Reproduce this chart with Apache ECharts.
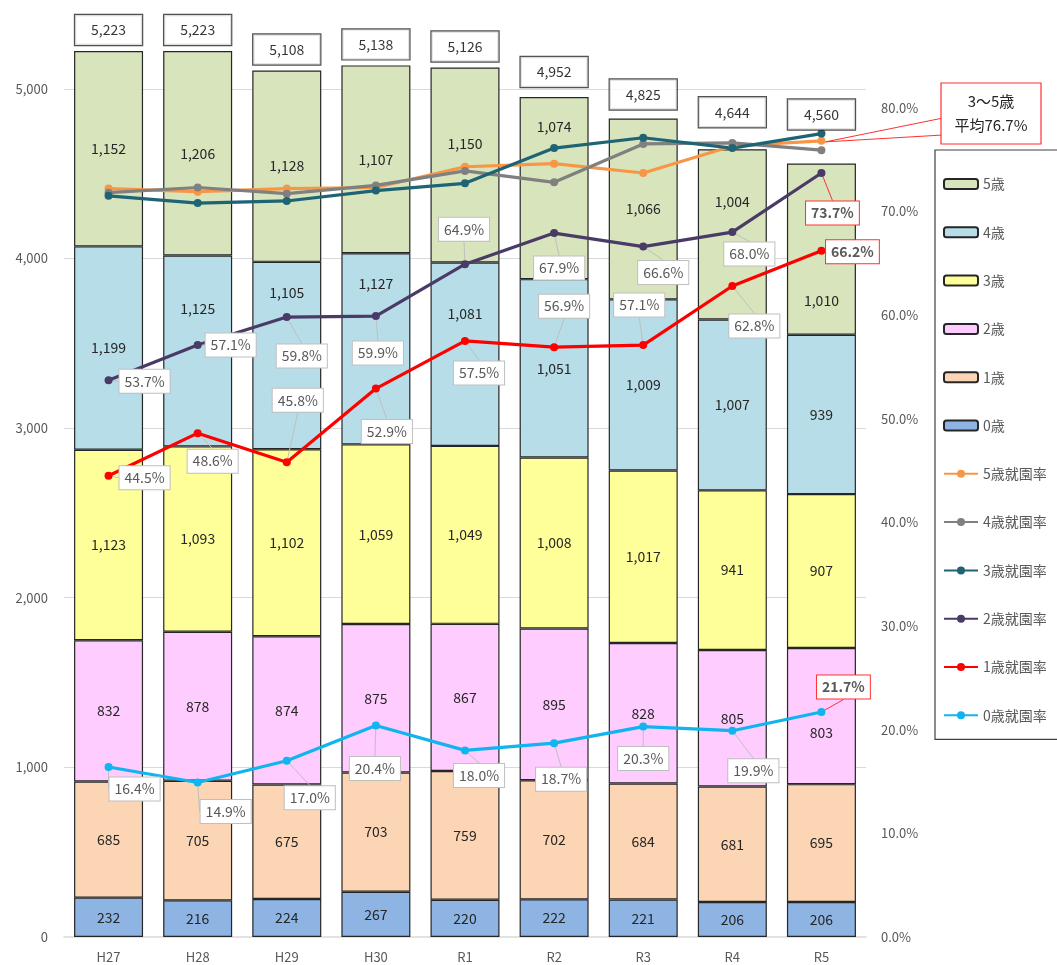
<!DOCTYPE html>
<html><head><meta charset="utf-8">
<script src="https://cdn.jsdelivr.net/npm/echarts@6/dist/echarts.min.js"></script>
<style>html,body{margin:0;padding:0;background:#fff}#c{width:1057px;height:965px}</style>
</head><body><div id="c"></div>
<script>
// ---- data ----
const categories = ['H27','H28','H29','H30','R1','R2','R3','R4','R5'];
const age0 = [232,216,224,267,220,222,221,206,206];
const age1 = [685,705,675,703,759,702,684,681,695];
const age2 = [832,878,874,875,867,895,828,805,803];
const age3 = [1123,1093,1102,1059,1049,1008,1017,941,907];
const age4 = [1199,1125,1105,1127,1081,1051,1009,1007,939];
const age5 = [1152,1206,1128,1107,1150,1074,1066,1004,1010];
const totals = [5223,5223,5108,5138,5126,4952,4825,4644,4560];
const rate5 = [72.2,71.9,72.2,72.3,74.3,74.6,73.7,76.3,76.8];
const rate4 = [71.8,72.3,71.7,72.5,73.9,72.8,76.5,76.6,75.9];
const rate3 = [71.5,70.8,71.0,72.0,72.7,76.1,77.1,76.1,77.5];
const rate2 = [53.7,57.1,59.8,59.9,64.9,67.9,66.6,68.0,73.7];
const rate1 = [44.5,48.6,45.8,52.9,57.5,56.9,57.1,62.8,66.2];
const rate0 = [16.4,14.9,17.0,20.4,18.0,18.7,20.3,19.9,21.7];
const avgText = '3〜5歳\n平均76.7%';
const avgValue = 76.7;

// ---- label placement (style only) ----
const off5 = [0,0,0,0,-21,-61,0,-33,52];
const off4 = [0,-42,-63,-65,-41,0,0,0,0];
const off2 = [0,0,0,0,0,0,0,0,17];
const totalGap = [5,5,5,5,5,9,8,21,33];
const lblOff = {
  r0: [[26,22],[28,29],[23,37],[-1,43],[14,25],[7,36],[0,32],[21,40],[22,-25]],
  r1: [[36,2],[15,28],[11,-62],[11,43],[14,32],[10,-41],[-4,-40],[22,40],[31,1]],
  r2: [[36,1],[33,0],[15,39],[2,37],[-1,-35],[5,35],[20,26],[17,22],[11,40]]
};

const FONT = '"Noto Sans CJK JP", "Noto Sans", sans-serif';
const fmt = v => Number(v).toLocaleString('en-US');

function barSeries(name, arr, color, offs) {
  return {
    name, type: 'bar', stack: 'a', barWidth: 69, yAxisIndex: 0,
    itemStyle: { color, borderColor: '#262626', borderWidth: 1.2 },
    label: { show: true, position: 'inside', color: '#262626', fontSize: 14, fontFamily: FONT,
      formatter: p => fmt(p.value) },
    data: arr.map((v, i) => (offs && offs[i]) ? { value: v, label: { offset: [0, offs[i]] } } : v),
    z: 2
  };
}

function lineSeries(name, arr, color, offKey) {
  const s = {
    name, type: 'line', yAxisIndex: 1, data: arr.slice(),
    symbol: 'circle', symbolSize: 8, showAllSymbol: true,
    lineStyle: { color, width: 3.2 }, itemStyle: { color },
    z: 5, emphasis: { disabled: true }
  };
  if (offKey) {
    const offs = lblOff[offKey];
    const last = arr.length - 1;
    s.data = arr.map((v, i) => i === last ? {
      value: v,
      label: { borderColor: '#ff3030', fontWeight: 'bold' },
      labelLine: { lineStyle: { color: '#ff3030' } }
    } : v);
    s.label = {
      show: true, position: 'inside', formatter: p => Number(p.value).toFixed(1) + '%',
      color: '#595959', fontSize: 14, fontFamily: FONT, backgroundColor: '#fff',
      borderColor: '#bfbfbf', borderWidth: 1, padding: [5, 5, 4, 5]
    };
    s.labelLine = { show: true, lineStyle: { color: '#bfbfbf', width: 1 } };
    s.labelLayout = p => ({ dx: offs[p.dataIndex][0], dy: offs[p.dataIndex][1] });
  }
  return s;
}

const series = [
  barSeries('0歳', age0, '#8DB4E2'),
  barSeries('1歳', age1, '#FCD5B4'),
  barSeries('2歳', age2, '#FFCCFF', off2),
  barSeries('3歳', age3, '#FFFF99'),
  barSeries('4歳', age4, '#B7DEE8', off4),
  barSeries('5歳', age5, '#D8E4BC', off5),
  {
    name: 'total', type: 'scatter', yAxisIndex: 0, symbol: 'rect', symbolSize: 2, silent: true,
    itemStyle: { color: 'rgba(0,0,0,0)' }, z: 6,
    data: totals.map((v, i) => ({ value: v, label: { distance: totalGap[i] } })),
    label: { show: true, position: 'top', formatter: p => fmt(p.value), color: '#000',
      fontSize: 14, fontFamily: FONT, backgroundColor: '#fff', borderColor: '#262626',
      borderWidth: 1.2, width: 67, align: 'center', lineHeight: 16, padding: [7, 0, 7, 0] }
  },
  lineSeries('5歳就園率', rate5, '#F79646'),
  lineSeries('4歳就園率', rate4, '#808080'),
  lineSeries('3歳就園率', rate3, '#1F6475'),
  lineSeries('2歳就園率', rate2, '#4A3A66', 'r2'),
  lineSeries('1歳就園率', rate1, '#FF0000', 'r1'),
  lineSeries('0歳就園率', rate0, '#10B4EE', 'r0')
];

const chart = echarts.init(document.getElementById('c'), null, { renderer: 'canvas' });
chart.setOption({
  animation: false,
  backgroundColor: '#fff',
  textStyle: { fontFamily: FONT },
  grid: { left: 64, right: 191, top: 4, bottom: 28, containLabel: false },
  legend: {
    orient: 'vertical', left: 935, top: 150,
    data: ['5歳','4歳','3歳','2歳','1歳','0歳','5歳就園率','4歳就園率','3歳就園率','2歳就園率','1歳就園率','0歳就園率'],
    itemWidth: 34, itemHeight: 10, itemGap: 34.3,
    textStyle: { color: '#595959', fontSize: 14, fontFamily: FONT, lineHeight: 14 },
    borderColor: '#404040', borderWidth: 1.2, padding: [27, 20, 17, 8],
    selectedMode: false
  },
  xAxis: {
    type: 'category', data: categories,
    axisLine: { lineStyle: { color: '#d9d9d9', width: 1.5 } },
    axisTick: { show: false },
    axisLabel: { color: '#595959', fontSize: 13, margin: 14, fontFamily: FONT }
  },
  yAxis: [
    { type: 'value', min: 0, max: 5500, interval: 1000,
      axisLine: { show: false }, axisTick: { show: false },
      axisLabel: { color: '#595959', fontSize: 13, margin: 16, showMaxLabel: false,
        formatter: v => fmt(v), fontFamily: FONT },
      splitLine: { lineStyle: { color: '#d9d9d9', width: 1 }, showMaxLine: false, showMinLine: false } },
    { type: 'value', min: 0, max: 90, interval: 10, position: 'right',
      axisLine: { show: false }, axisTick: { show: false }, splitLine: { show: false },
      axisLabel: { color: '#595959', fontSize: 13, margin: 15, showMaxLabel: false,
        formatter: v => v.toFixed(1) + '%', fontFamily: FONT } }
  ],
  series
});

// callout for the 3-5 average, tip attached to the R5 point on the rate axis
const tip = chart.convertToPixel({ seriesIndex: 7 }, [categories.length - 1, avgValue]);
const bx = 941, by = 83, bw = 100, bh = 61;
chart.setOption({
  graphic: [
    { type: 'polygon', z: 100, shape: { points: [[bx + 2, by + 35], [tip[0] + 4, tip[1]], [bx + 2, by + 52]] },
      style: { fill: '#fff', stroke: '#ff3030', lineWidth: 1 } },
    { type: 'rect', z: 101, shape: { x: bx, y: by, width: bw, height: bh },
      style: { fill: '#fff', stroke: '#ff3030', lineWidth: 1.2 } },
    { type: 'text', z: 102, x: bx + bw / 2, y: by + bh / 2,
      style: { text: avgText, fill: '#262626', fontSize: 15, fontFamily: FONT,
        align: 'center', verticalAlign: 'middle', lineHeight: 24 } }
  ]
});
</script></body></html>
